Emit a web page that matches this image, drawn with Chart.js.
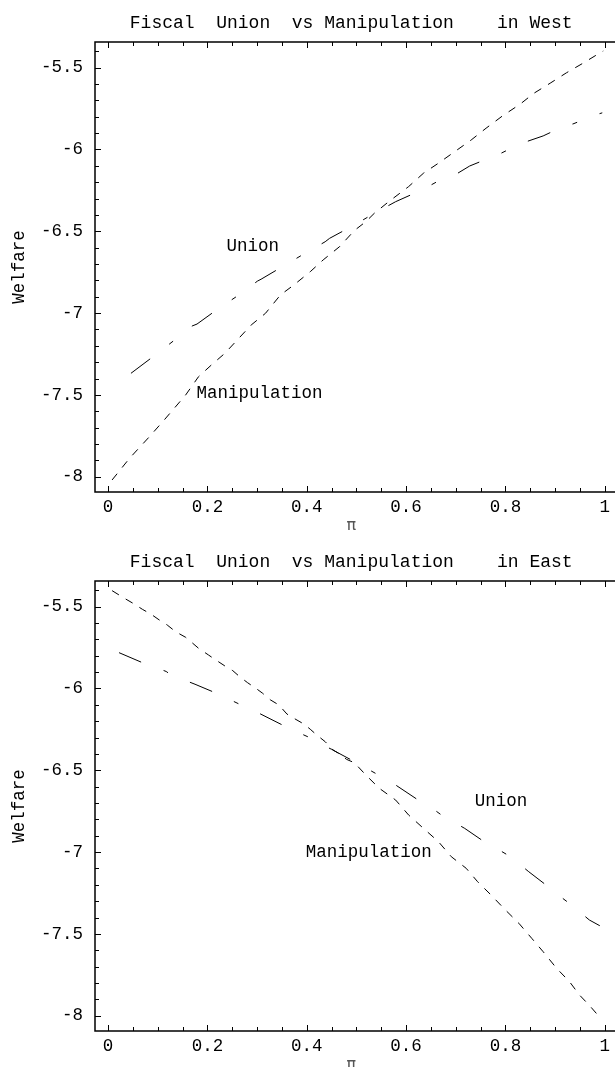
<!DOCTYPE html>
<html><head><meta charset="utf-8">
<script src="https://cdn.jsdelivr.net/npm/chart.js@4.4.0/dist/chart.umd.min.js"></script>
<style>
html,body{margin:0;padding:0;background:#fff;overflow:hidden;width:615px;height:1067px}
.wrap{position:absolute;left:0;width:615px;height:539px}
canvas{display:block}
</style></head><body>
<div class="wrap" style="top:0"><canvas id="c1" width="615" height="539"></canvas></div>
<div class="wrap" style="top:539px"><canvas id="c2" width="615" height="539"></canvas></div>
<script>
// ---- data ----
const westManipX = [0.008,0.043,0.083,0.113,0.156,0.182,0.208,0.235,0.288,0.317,0.347,0.374,0.407,0.433,0.466,0.496,0.519,0.536,0.565,0.605,0.635,0.665,0.698,0.731,0.761,0.794,0.830,0.857,0.890,0.923,0.956,0.989,0.997];
const westManipY = [-8.02,-7.888,-7.756,-7.653,-7.501,-7.389,-7.317,-7.246,-7.073,-7.001,-6.889,-6.828,-6.747,-6.675,-6.594,-6.495,-6.441,-6.39,-6.319,-6.227,-6.145,-6.084,-6.013,-5.942,-5.870,-5.795,-5.722,-5.657,-5.595,-5.531,-5.473,-5.412,-5.398];
const westUnionX = [0.046,0.095,0.132,0.169,0.179,0.220,0.258,0.301,0.308,0.351,0.394,0.437,0.446,0.496,0.536,0.579,0.632,0.681,0.704,0.728,0.774,0.784,0.829,0.876,0.923,0.936,0.981,0.995];
const westUnionY = [-7.368,-7.256,-7.169,-7.079,-7.067,-6.977,-6.900,-6.804,-6.793,-6.716,-6.639,-6.564,-6.543,-6.461,-6.39,-6.319,-6.247,-6.166,-6.145,-6.101,-6.044,-6.034,-5.966,-5.917,-5.850,-5.844,-5.789,-5.776];

const eastManipX = [0.008,0.033,0.050,0.069,0.086,0.103,0.119,0.136,0.156,0.169,0.182,0.202,0.215,0.235,0.251,0.265,0.281,0.298,0.311,0.327,0.344,0.360,0.374,0.394,0.407,0.420,0.437,0.453,0.466,0.480,0.496,0.519,0.546,0.579,0.605,0.635,0.665,0.691,0.721,0.744,0.771,0.800,0.827,0.853,0.876,0.903,0.929,0.949,0.970,0.990];
const eastManipY = [-5.402,-5.449,-5.479,-5.516,-5.545,-5.581,-5.612,-5.653,-5.687,-5.720,-5.754,-5.795,-5.822,-5.862,-5.891,-5.928,-5.965,-6.00,-6.029,-6.070,-6.101,-6.156,-6.182,-6.217,-6.249,-6.284,-6.325,-6.376,-6.400,-6.433,-6.454,-6.529,-6.610,-6.682,-6.773,-6.855,-6.936,-7.028,-7.099,-7.181,-7.262,-7.354,-7.435,-7.527,-7.609,-7.710,-7.792,-7.873,-7.94,-8.01];
const eastUnionX = [0.022,0.069,0.117,0.126,0.175,0.218,0.268,0.275,0.324,0.364,0.413,0.420,0.450,0.496,0.538,0.579,0.622,0.632,0.671,0.718,0.757,0.767,0.810,0.847,0.886,0.893,0.933,0.969,0.990];
const eastUnionY = [-5.781,-5.842,-5.896,-5.916,-5.974,-6.029,-6.101,-6.107,-6.182,-6.243,-6.310,-6.325,-6.372,-6.447,-6.518,-6.590,-6.677,-6.686,-6.773,-6.855,-6.936,-6.950,-7.028,-7.120,-7.211,-7.232,-7.323,-7.415,-7.45];

const xTickValues = [0,0.2,0.4,0.6,0.8,1];
const xTickLabels = ['0','0.2','0.4','0.6','0.8','1'];
const yTickValues = [-8,-7.5,-7,-6.5,-6,-5.5];
const yTickLabels = ['-8','-7.5','-7','-6.5','-6','-5.5'];

const westTitle = 'Fiscal  Union  vs Manipulation    in West';
const eastTitle = 'Fiscal  Union  vs Manipulation    in East';
const westLabels = [{text:'Union', x:0.291, y:-6.59}, {text:'Manipulation', x:0.305, y:-7.488}];
const eastLabels = [{text:'Union', x:0.791, y:-6.688}, {text:'Manipulation', x:0.525, y:-7.0}];

// ---- drawing ----
const MONO = '"Liberation Mono", "DejaVu Sans Mono", monospace';
const zip = (xs, ys) => xs.map((v, i) => ({x: v, y: ys[i]}));

const framePlugin = {
  id: 'frameTicks',
  afterDraw(chart, args, opts) {
    const {ctx, chartArea: a, scales: {x, y}} = chart;
    ctx.save();
    ctx.strokeStyle = '#000';
    ctx.lineWidth = 1.5;
    ctx.beginPath();
    ctx.moveTo(chart.width + 2, a.top); ctx.lineTo(a.left, a.top);
    ctx.lineTo(a.left, a.bottom); ctx.lineTo(chart.width + 2, a.bottom);
    ctx.stroke();
    ctx.lineWidth = 1;
    ctx.beginPath();
    for (let i = 0; i <= 20; i++) {
      const v = i * 0.05;
      const px = Math.round(x.getPixelForValue(v)) + 0.5;
      const L = (i % 4 === 0) ? 6 : 4;
      ctx.moveTo(px, a.bottom); ctx.lineTo(px, a.bottom - L);
      ctx.moveTo(px, a.top); ctx.lineTo(px, a.top + L);
    }
    for (let i = 0; i <= 26; i++) {
      const v = -8 + i * 0.1;
      const py = Math.round(y.getPixelForValue(v)) + 0.5;
      const L = (i % 5 === 0) ? 6 : 4;
      ctx.moveTo(a.left, py); ctx.lineTo(a.left + L, py);
    }
    ctx.stroke();
    // title
    ctx.fillStyle = '#000';
    ctx.font = '18px ' + MONO;
    ctx.textAlign = 'center';
    ctx.textBaseline = 'middle';
    ctx.fillText(opts.title, (a.left + a.right) / 2, 23);
    // curve labels
    ctx.font = '17.5px ' + MONO;
    for (const l of opts.labels) {
      ctx.fillText(l.text, x.getPixelForValue(l.x), y.getPixelForValue(l.y));
    }
    ctx.restore();
  }
};

function makeChart(id, manip, union, title, labels) {
  return new Chart(document.getElementById(id), {
    type: 'scatter',
    data: {
      datasets: [
        {label: 'Union', data: union, showLine: true, borderColor: '#000', borderWidth: 1,
         borderDash: [24, 24, 5, 24], pointRadius: 0, fill: false, tension: 0},
        {label: 'Manipulation', data: manip, showLine: true, borderColor: '#000', borderWidth: 1,
         borderDash: [8, 8], pointRadius: 0, fill: false, tension: 0}
      ]
    },
    options: {
      responsive: false, animation: false, devicePixelRatio: 1,
      layout: {padding: {top: 42, right: 0, left: 0, bottom: 0}},
      plugins: {legend: {display: false}, tooltip: {enabled: false},
        frameTicks: {title: title, labels: labels}},
      scales: {
        x: {type: 'linear', min: -0.0264, max: 1.0054,
          grid: {display: false, drawTicks: false}, border: {display: false},
          afterBuildTicks: s => { s.ticks = xTickValues.map(v => ({value: v})); },
          afterFit: s => { s.height = 47; },
          ticks: {color: '#000', padding: 5, maxRotation: 0, autoSkip: false,
            font: {family: MONO, size: 17.5},
            callback: (v, i) => xTickLabels[i]},
          title: {display: true, text: 'π', color: '#555',
            font: {family: '"DejaVu Sans", sans-serif', size: 16},
            padding: {top: 0, bottom: 4}}
        },
        y: {type: 'linear', min: -8.0935, max: -5.343,
          grid: {display: false, drawTicks: false}, border: {display: false},
          afterBuildTicks: s => { s.ticks = yTickValues.map(v => ({value: v})); },
          afterFit: s => { s.width = 95; },
          ticks: {color: '#000', padding: 12, autoSkip: false,
            font: {family: MONO, size: 17.5},
            callback: (v, i) => yTickLabels[i]},
          title: {display: true, text: 'Welfare', color: '#000',
            font: {family: MONO, size: 17.5}, padding: {top: 9, bottom: 0}}
        }
      }
    },
    plugins: [framePlugin]
  });
}

makeChart('c1', zip(westManipX, westManipY), zip(westUnionX, westUnionY), westTitle, westLabels);
makeChart('c2', zip(eastManipX, eastManipY), zip(eastUnionX, eastUnionY), eastTitle, eastLabels);
</script></body></html>
